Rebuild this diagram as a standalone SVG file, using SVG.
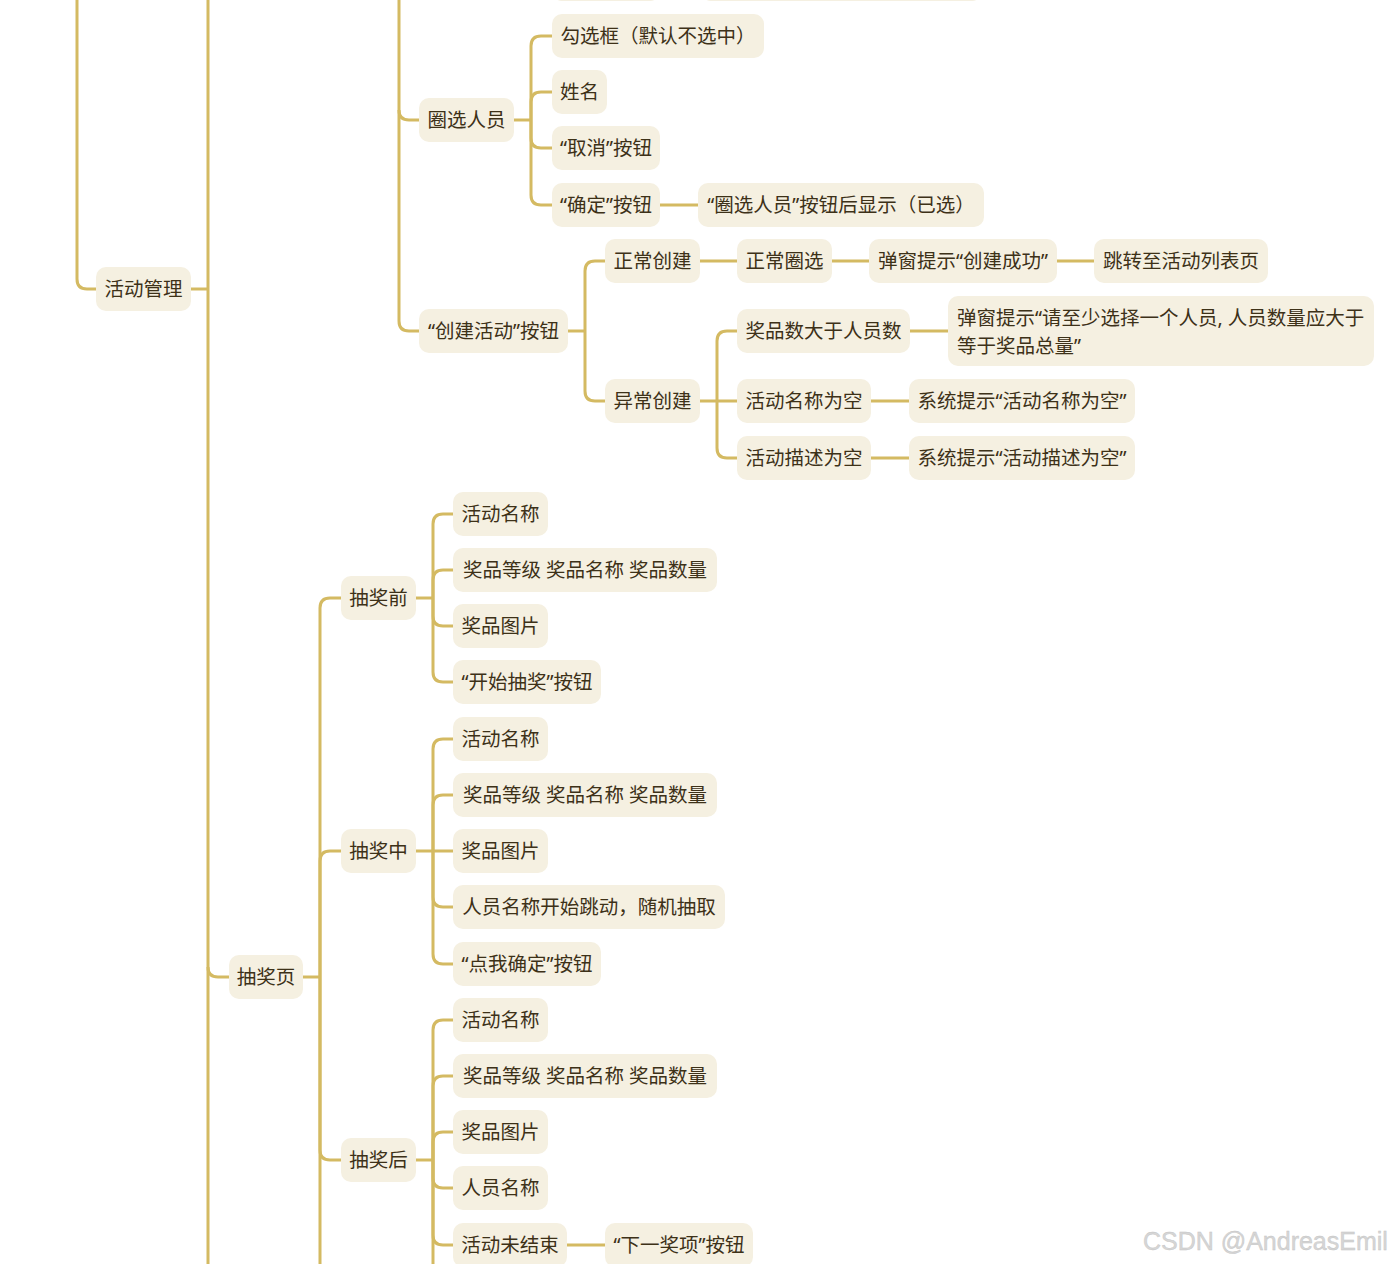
<svg xmlns="http://www.w3.org/2000/svg" width="1393" height="1264" viewBox="0 0 1393 1264">
<style>
.n rect{fill:#F5F0E1;}
.n text{font-family:"Noto Sans","Noto Sans CJK SC",sans-serif;font-size:19.5px;fill:#3d3118;text-anchor:middle;dominant-baseline:central;}
.n text.l{text-anchor:start;}
#edges path{fill:none;stroke:#D4BA62;stroke-width:3;stroke-linecap:butt;}
.wm{font-family:"Liberation Sans",Arial,sans-serif;font-size:25px;fill:#d6d6d6;stroke:#c4c4c4;stroke-width:0.4;}
</style>
<rect width="1393" height="1264" fill="#ffffff"/>
<g id="edges">
<path d="M77,0 V279 Q77,289 87,289 H96"/>
<path d="M208,0 V1264"/>
<path d="M191,289 H208"/>
<path d="M208,967 Q208,977 218,977 H229"/>
<path d="M399,0 V321 Q399,331 409,331 H419"/>
<path d="M399,110 Q399,120 409,120 H419"/>
<path d="M514,120 H531"/>
<path d="M531,120 V46 Q531,36 541,36 H552"/>
<path d="M531,120 V102 Q531,92 541,92 H552"/>
<path d="M531,120 V138 Q531,148 541,148 H552"/>
<path d="M531,120 V195 Q531,205 541,205 H552"/>
<path d="M660,205 H698"/>
<path d="M568,331 H585"/>
<path d="M585,331 V271 Q585,261 595,261 H605"/>
<path d="M585,331 V391 Q585,401 595,401 H605"/>
<path d="M700,261 H737"/>
<path d="M832,261 H869"/>
<path d="M1057,261 H1094"/>
<path d="M700,401 H737"/>
<path d="M717,401 V341 Q717,331 727,331 H737"/>
<path d="M717,401 V448 Q717,458 727,458 H737"/>
<path d="M910,331 H948"/>
<path d="M871,401 H909"/>
<path d="M871,458 H909"/>
<path d="M303,977 H320"/>
<path d="M320,977 V608 Q320,598 330,598 H341"/>
<path d="M320,977 V861 Q320,851 330,851 H341"/>
<path d="M320,977 V1150 Q320,1160 330,1160 H341"/>
<path d="M320,977 V1264"/>
<path d="M416,598 H433"/>
<path d="M433,598 V524 Q433,514 443,514 H453"/>
<path d="M433,598 V580 Q433,570 443,570 H453"/>
<path d="M433,598 V616 Q433,626 443,626 H453"/>
<path d="M433,598 V672 Q433,682 443,682 H453"/>
<path d="M416,851 H453"/>
<path d="M433,851 V749 Q433,739 443,739 H453"/>
<path d="M433,851 V805 Q433,795 443,795 H453"/>
<path d="M433,851 V897 Q433,907 443,907 H453"/>
<path d="M433,851 V954 Q433,964 443,964 H453"/>
<path d="M416,1160 H433"/>
<path d="M433,1160 V1030 Q433,1020 443,1020 H453"/>
<path d="M433,1160 V1086 Q433,1076 443,1076 H453"/>
<path d="M433,1160 V1142 Q433,1132 443,1132 H453"/>
<path d="M433,1160 V1178 Q433,1188 443,1188 H453"/>
<path d="M433,1160 V1235 Q433,1245 443,1245 H453"/>
<path d="M433,1160 V1264"/>
<path d="M567,1245 H605"/>
</g>
<g id="n-top1" class="n"><rect x="552" y="-43" width="108" height="44" rx="10"/></g>
<g id="n-top2" class="n"><rect x="701" y="-43" width="281" height="44" rx="10"/></g>
<g id="n-gouxuan" class="n"><rect x="552" y="14" width="212" height="44" rx="10"/><text x="658" y="35">勾选框（默认不选中）</text></g>
<g id="n-xingming" class="n"><rect x="552" y="70" width="55" height="44" rx="10"/><text x="579.5" y="91">姓名</text></g>
<g id="n-quxiao" class="n"><rect x="552" y="126" width="108" height="44" rx="10"/><text x="606" y="147">“取消”按钮</text></g>
<g id="n-queding" class="n"><rect x="552" y="183" width="108" height="44" rx="10"/><text x="606" y="204">“确定”按钮</text></g>
<g id="n-yixuan" class="n"><rect x="698" y="183" width="286" height="44" rx="10"/><text x="841" y="204">“圈选人员”按钮后显示（已选）</text></g>
<g id="n-quanxuan" class="n"><rect x="419" y="98" width="95" height="44" rx="10"/><text x="466.5" y="119">圈选人员</text></g>
<g id="n-huodong" class="n"><rect x="96" y="267" width="95" height="44" rx="10"/><text x="143.5" y="288">活动管理</text></g>
<g id="n-chuangjian" class="n"><rect x="419" y="309" width="149" height="44" rx="10"/><text x="493.5" y="330">“创建活动”按钮</text></g>
<g id="n-zhengchang" class="n"><rect x="605" y="239" width="95" height="44" rx="10"/><text x="652.5" y="260">正常创建</text></g>
<g id="n-zcquanxuan" class="n"><rect x="737" y="239" width="95" height="44" rx="10"/><text x="784.5" y="260">正常圈选</text></g>
<g id="n-chenggong" class="n"><rect x="869" y="239" width="188" height="44" rx="10"/><text x="963" y="260">弹窗提示“创建成功”</text></g>
<g id="n-tiaozhuan" class="n"><rect x="1094" y="239" width="174" height="44" rx="10"/><text x="1181" y="260">跳转至活动列表页</text></g>
<g id="n-yichang" class="n"><rect x="605" y="379" width="95" height="44" rx="10"/><text x="652.5" y="400">异常创建</text></g>
<g id="n-jiangpinshu" class="n"><rect x="737" y="309" width="173" height="44" rx="10"/><text x="823.5" y="330">奖品数大于人员数</text></g>
<g id="n-zhishao" class="n"><rect x="948" y="296" width="426" height="70" rx="10"/><text class="l" x="957" y="317">弹窗提示“请至少选择一个人员, 人员数量应大于</text><text class="l" x="957" y="345">等于奖品总量”</text></g>
<g id="n-mingchengkong" class="n"><rect x="737" y="379" width="134" height="44" rx="10"/><text x="804" y="400">活动名称为空</text></g>
<g id="n-tishi1" class="n"><rect x="909" y="379" width="226" height="44" rx="10"/><text x="1022" y="400">系统提示“活动名称为空”</text></g>
<g id="n-miaoshukong" class="n"><rect x="737" y="436" width="134" height="44" rx="10"/><text x="804" y="457">活动描述为空</text></g>
<g id="n-tishi2" class="n"><rect x="909" y="436" width="226" height="44" rx="10"/><text x="1022" y="457">系统提示“活动描述为空”</text></g>
<g id="n-choujiangye" class="n"><rect x="229" y="955" width="74" height="44" rx="10"/><text x="266" y="976">抽奖页</text></g>
<g id="n-qian" class="n"><rect x="341" y="576" width="75" height="44" rx="10"/><text x="378.5" y="597">抽奖前</text></g>
<g id="n-qian-1" class="n"><rect x="453" y="492" width="95" height="44" rx="10"/><text x="500.5" y="513">活动名称</text></g>
<g id="n-qian-2" class="n"><rect x="453" y="548" width="264" height="44" rx="10"/><text x="585" y="569">奖品等级 奖品名称 奖品数量</text></g>
<g id="n-qian-3" class="n"><rect x="453" y="604" width="95" height="44" rx="10"/><text x="500.5" y="625">奖品图片</text></g>
<g id="n-qian-4" class="n"><rect x="453" y="660" width="148" height="44" rx="10"/><text x="527" y="681">“开始抽奖”按钮</text></g>
<g id="n-zhong" class="n"><rect x="341" y="829" width="75" height="44" rx="10"/><text x="378.5" y="850">抽奖中</text></g>
<g id="n-zhong-1" class="n"><rect x="453" y="717" width="95" height="44" rx="10"/><text x="500.5" y="738">活动名称</text></g>
<g id="n-zhong-2" class="n"><rect x="453" y="773" width="264" height="44" rx="10"/><text x="585" y="794">奖品等级 奖品名称 奖品数量</text></g>
<g id="n-zhong-3" class="n"><rect x="453" y="829" width="95" height="44" rx="10"/><text x="500.5" y="850">奖品图片</text></g>
<g id="n-zhong-4" class="n"><rect x="453" y="885" width="272" height="44" rx="10"/><text x="589" y="906">人员名称开始跳动，随机抽取</text></g>
<g id="n-zhong-5" class="n"><rect x="453" y="942" width="148" height="44" rx="10"/><text x="527" y="963">“点我确定”按钮</text></g>
<g id="n-hou" class="n"><rect x="341" y="1138" width="75" height="44" rx="10"/><text x="378.5" y="1159">抽奖后</text></g>
<g id="n-hou-1" class="n"><rect x="453" y="998" width="95" height="44" rx="10"/><text x="500.5" y="1019">活动名称</text></g>
<g id="n-hou-2" class="n"><rect x="453" y="1054" width="264" height="44" rx="10"/><text x="585" y="1075">奖品等级 奖品名称 奖品数量</text></g>
<g id="n-hou-3" class="n"><rect x="453" y="1110" width="95" height="44" rx="10"/><text x="500.5" y="1131">奖品图片</text></g>
<g id="n-hou-4" class="n"><rect x="453" y="1166" width="95" height="44" rx="10"/><text x="500.5" y="1187">人员名称</text></g>
<g id="n-hou-5" class="n"><rect x="453" y="1223" width="114" height="44" rx="10"/><text x="510" y="1244">活动未结束</text></g>
<g id="n-xiayi" class="n"><rect x="605" y="1223" width="148" height="44" rx="10"/><text x="679" y="1244">“下一奖项”按钮</text></g>
<text class="wm" x="1143" y="1250">CSDN @AndreasEmil</text>
</svg>
